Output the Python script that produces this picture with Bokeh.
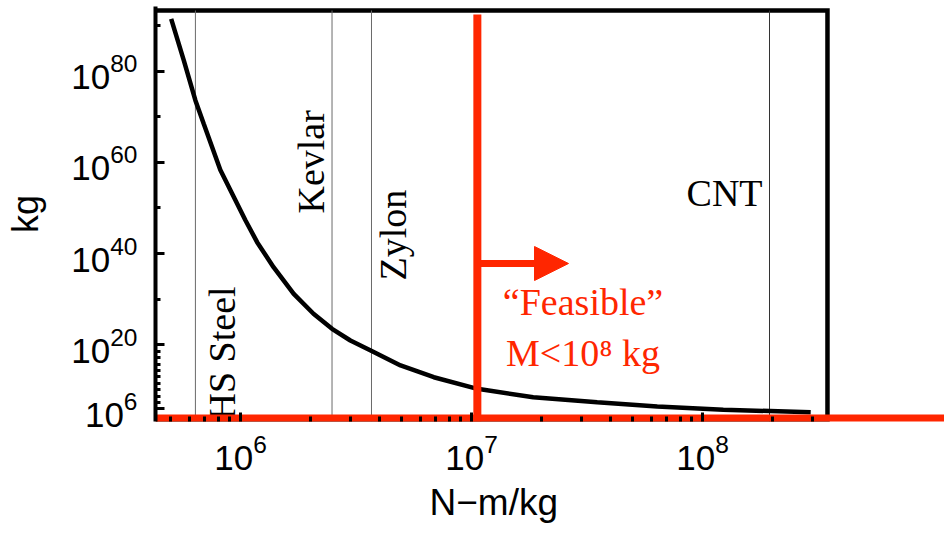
import math
from bokeh.plotting import figure
from bokeh.models import FixedTicker, LogTickFormatter, Arrow, NormalHead, Range1d, Title
from bokeh.core.properties import value
from bokeh.embed import file_html
from bokeh.resources import INLINE

# ---- data ----
strength = [5.01e5, 5.69e5, 6.38e5, 6.93e5, 8.18e5, 1.05e6, 1.18e6, 1.39e6, 1.70e6,
            2.07e6, 2.49e6, 2.99e6, 3.66e6, 4.93e6, 6.87e6, 1.06e7, 1.85e7, 3.50e7,
            6.37e7, 1.23e8, 2.94e8]                       # N-m/kg
mass = [2.7e91, 1.6e82, 3.5e73, 2.7e68, 2.0e58, 2.0e47, 3.2e42, 1.05e37, 1.55e31,
        6.5e26, 3.3e23, 9.1e20, 5.9e18, 3.1e15, 8.3e12, 2.4e10, 3.5e8, 2.8e7,
        3.2e6, 6.0e5, 1.8e5]                              # kg

materials = ["HS Steel", "Kevlar", "Zylon", "CNT"]
material_strength = [6.38e5, 2.49e6, 3.69e6, 1.95e8]

feasible_strength = 1.06e7          # red vertical line
feasible_floor = 10 ** 3.875        # red horizontal line
arrow_end_strength = 2.63e7
arrow_level = 10 ** 37.83

x_major = [1e6, 1e7, 1e8]
y_major = [1e6, 1e20, 1e40, 1e60, 1e80]
y_minor = [10 ** (6 + 1.4 * k) for k in range(1, 10)] + [1e30, 1e50, 1e70, 1e90]
x_minor = [m * 10 ** d for d in range(5, 9) for m in range(2, 10) if m * 10 ** d < 3.5e8]

# frame (extended right so the red floor line runs past the box) and the drawn box
X_LO, X_HI = 10 ** 5.632, 10 ** 9.0476
Y_LO, Y_HI = 10 ** 3.218, 10 ** 94.13
BOX_X1 = 10 ** 8.541
BOX_TOP = 10 ** 93.25

RED = "#FF2600"
SERIF = "Liberation Serif"
SANS = "Liberation Sans"

p = figure(width=944, height=535, x_axis_type="log", y_axis_type="log",
           x_range=Range1d(X_LO, X_HI), y_range=Range1d(Y_LO, Y_HI),
           output_backend="svg", toolbar_location=None,
           min_border_left=155, min_border_right=0, min_border_top=6,
           min_border_bottom=114)
p.grid.visible = False
p.outline_line_color = None
p.background_fill_color = "white"
p.border_fill_color = "white"

# axes
for ax in (p.xaxis, p.yaxis):
    ax.formatter = LogTickFormatter()
    ax.major_label_text_font = SANS
    ax.major_label_text_font_size = "35px"
    ax.major_label_text_color = "black"
    ax.axis_label_text_font = SANS
    ax.axis_label_text_font_size = "36px"
    ax.axis_label_text_font_style = "normal"
    ax.axis_label_text_color = "black"
    ax.major_tick_out = 0
    ax.major_tick_in = 9
    ax.minor_tick_out = 0
    ax.minor_tick_in = 5
    ax.major_tick_line_width = 3
    ax.minor_tick_line_width = 3
    ax.major_tick_line_color = "black"
    ax.minor_tick_line_color = "black"

p.xaxis.ticker = FixedTicker(ticks=x_major, minor_ticks=x_minor)
p.yaxis.ticker = FixedTicker(ticks=y_major, minor_ticks=y_minor)
p.xaxis.axis_line_color = None
p.yaxis.axis_line_color = "black"
p.yaxis.axis_line_width = 4
p.yaxis.axis_label = "kg"
p.xaxis.major_label_standoff = 12
p.yaxis.major_label_standoff = 18
p.yaxis.axis_label_standoff = 22

p.add_layout(Title(text="N\u2212m/kg", align="left", offset=274,
                   text_font=SANS, text_font_size="37px", text_font_style="normal",
                   text_color="black", standoff=15), "below")

# box (top and right edges, bottom edge under the red line)
p.line([X_LO, BOX_X1, BOX_X1, X_LO], [BOX_TOP, BOX_TOP, Y_LO, Y_LO],
       line_color="black", line_width=4.5, line_join="miter")

# material reference lines
p.segment(x0=material_strength[:3], y0=[Y_LO] * 3, x1=material_strength[:3], y1=[BOX_TOP] * 3,
          line_color="#6a6a6a", line_width=1)
p.segment(x0=material_strength[3:], y0=[Y_LO], x1=material_strength[3:], y1=[BOX_TOP],
          line_color="#333333", line_width=1)

# material labels
p.text(x=[8.28e5, 2.01e6, 4.57e6], y=[10 ** 3.44, 10 ** 48.78, 10 ** 34.1],
       text=materials[:3], angle=math.pi / 2, text_align="left",
       text_baseline="middle", text_font=value(SERIF),
       text_font_size="38px", text_color="black")
p.text(x=[1.82e8], y=[10 ** 53.27], text=[materials[3]], text_align="right",
       text_baseline="middle", text_font=value(SERIF),
       text_font_size="38px", text_color="black")

# mass curve
p.line(strength, mass, line_color="black", line_width=4.5)

# feasibility markers
p.segment(x0=[feasible_strength], y0=[Y_LO], x1=[feasible_strength], y1=[10 ** 92.37],
          line_color=RED, line_width=8)
p.segment(x0=[X_LO], y0=[feasible_floor], x1=[X_HI], y1=[feasible_floor],
          line_color=RED, line_width=8)
p.add_layout(Arrow(end=NormalHead(size=34, fill_color=RED, line_color=RED, line_width=1),
                   x_start=feasible_strength, y_start=arrow_level,
                   x_end=arrow_end_strength, y_end=arrow_level,
                   line_color=RED, line_width=7))

p.text(x=[3.04e7, 3.04e7], y=[10 ** 29.40, 10 ** 18.33],
       text=["\u201cFeasible\u201d", "M<10\u2078 kg"], text_align="center",
       text_baseline="middle", text_font=value(SERIF),
       text_font_size="38px", text_color=RED)

open("out.html", "w").write(file_html(p, INLINE))
